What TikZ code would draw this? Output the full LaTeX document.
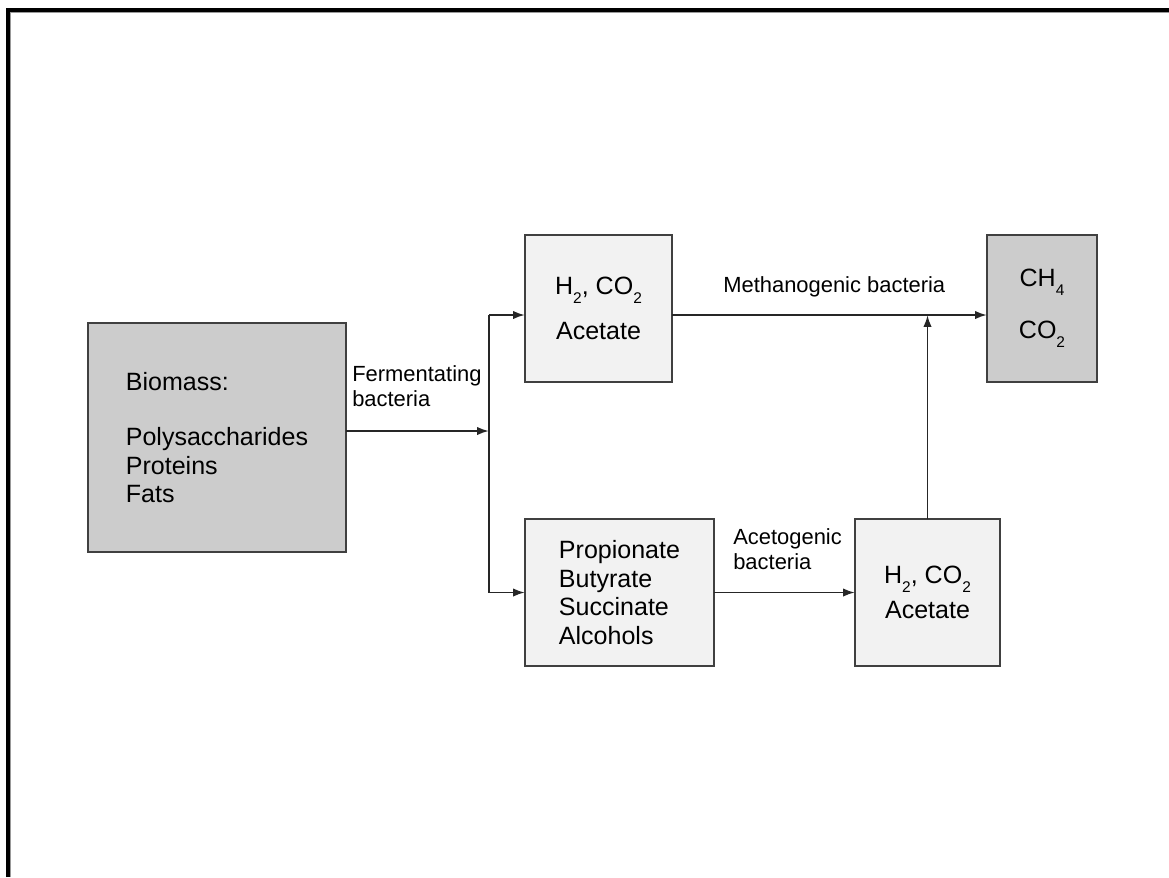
\documentclass[tikz,border=0pt]{standalone}
\usepackage{fontspec}
\setmainfont{Liberation Sans}
\usetikzlibrary{arrows.meta}

\newcommand{\lowsub}[1]{\raisebox{-6.5pt}{\fontsize{11}{11}\selectfont #1}}

\tikzset{
  box/.style={draw=black!75, line width=1.3pt, inner sep=0pt, outer sep=0pt,
    minimum height=3.675cm, align=left, font=\fontsize{17.8}{20.3}\selectfont},
  dark/.style={box, fill=black!20},
  light/.style={box, fill=black!5},
  lbl/.style={inner sep=0pt, align=left, font=\fontsize{15.6}{17.8}\selectfont},
  wire/.style={line width=1.4pt, black!85},
  flow/.style={wire, -{Latex[length=8.5pt,width=6pt]}},
}

\begin{document}
\begin{tikzpicture}[x=0.025cm,y=-0.025cm]
\useasboundingbox (0,0) rectangle (1169,877);
\draw[line width=2.2pt] (8,877) -- (8,10) -- (1169,10);
\draw[black!40, line width=0.6pt] (10.4,877) -- (10.4,12.4) -- (1169,12.4);

\node[dark, minimum width=6.45cm, minimum height=5.725cm] (bio) at (217,437.5)
  {Biomass:\\[19pt]Polysaccharides\\Proteins\\Fats};
\node[light, minimum width=3.675cm, align=center] (gases) at (598.5,308.5)
  {H\lowsub{2}, CO\lowsub{2}\\[11.7pt]Acetate};
\node[dark, minimum width=2.75cm, align=center] (ch4) at (1042,308.5)
  {CH\lowsub{4}\\[16.7pt]CO\lowsub{2}};
\node[light, minimum width=4.725cm] (acids) at (619.5,592.5)
  {Propionate\\Butyrate\\Succinate\\Alcohols};
\node[light, minimum width=3.625cm, align=center] (gases2) at (927.5,592.5)
  {H\lowsub{2}, CO\lowsub{2}\\[4.6pt]Acetate};

\coordinate (split) at (489,431);
\coordinate (up) at (489,315);
\coordinate (down) at (489,592.5);
\draw[flow] (bio.east |- split) -- (split);
\draw[wire] (up) -- (down);
\draw[flow] (up) -- (gases.west |- up);
\draw[flow] (down) -- (acids.west);
\draw[flow] (gases.east |- up) -- (ch4.west |- up);
\draw[flow] (gases2.north) -- (gases2.north |- up);
\draw[flow] (acids.east) -- (gases2.west);

\node[lbl, anchor=north west] (ferm) at (352,365) {Fermentating\\bacteria};
\node[lbl, anchor=base west] (meth) at (723,292) {Methanogenic bacteria};
\node[lbl, anchor=north west] (aceto) at (733,528) {Acetogenic\\bacteria};
\end{tikzpicture}
\end{document}
